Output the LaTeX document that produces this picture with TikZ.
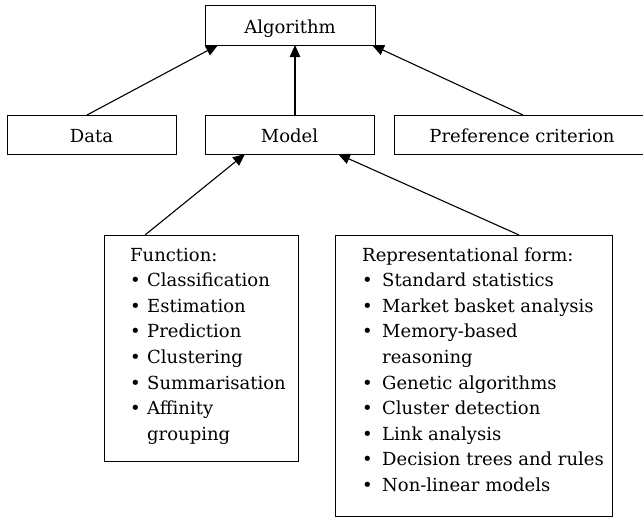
\documentclass[tikz,border=0pt]{standalone}
\usepackage{fontspec}
\setmainfont{DejaVu Serif}
\usetikzlibrary{arrows.meta}

\tikzset{
  box/.style={draw, line width=1.1pt, inner sep=0pt, anchor=north west},
  label/.style={anchor=base, inner sep=0pt, font=\fontsize{18}{25.6}\selectfont},
  listtext/.style={anchor=base west, inner sep=0pt, font=\fontsize{18}{25.6}\selectfont},
  link/.style={line width=1.1pt, -{Triangle[length=12pt,width=10.5pt]}}
}
\newcommand{\bul}[1]{\makebox[#1][l]{\textbullet}}

\begin{document}
\begin{tikzpicture}[x=1pt, y=-1pt]
\useasboundingbox (0,0) rectangle (643,517);

% top level
\node[box, minimum width=170pt, minimum height=40pt] (alg) at (205,5) {};
\node[label] at (290,33) {Algorithm};

% second level
\node[box, minimum width=169pt, minimum height=39pt] (data) at (7,115) {};
\node[label] at (91.5,142) {Data};
\node[box, minimum width=169pt, minimum height=39pt] (model) at (205,115) {};
\node[label] at (289.5,142) {Model};
\node[box, minimum width=252pt, minimum height=39pt] (pref) at (394,115) {};
\node[label] at (522,142) {Preference criterion};

% lower boxes
\node[box, minimum width=194pt, minimum height=226pt] (fn) at (104,235) {};
\node[listtext] at (130,261) {%
  \begin{tabular}[t]{@{}l@{}l@{}}
  \multicolumn{2}{@{}l@{}}{Function:}\\
  \bul{17pt} & Classification\\
  \bul{17pt} & Estimation\\
  \bul{17pt} & Prediction\\
  \bul{17pt} & Clustering\\
  \bul{17pt} & Summarisation\\
  \bul{17pt} & Affinity\\
             & grouping
  \end{tabular}};

\node[box, minimum width=277pt, minimum height=281pt] (rep) at (335,235) {};
\node[listtext] at (362,261) {%
  \begin{tabular}[t]{@{}l@{}l@{}}
  \multicolumn{2}{@{}l@{}}{Representational form:}\\
  \bul{20pt} & Standard statistics\\
  \bul{20pt} & Market basket analysis\\
  \bul{20pt} & Memory-based\\
             & reasoning\\
  \bul{20pt} & Genetic algorithms\\
  \bul{20pt} & Cluster detection\\
  \bul{20pt} & Link analysis\\
  \bul{20pt} & Decision trees and rules\\
  \bul{20pt} & Non-linear models
  \end{tabular}};

% connectors
\coordinate (dataT) at (87,115);
\coordinate (algA) at (218,45);
\coordinate (modelT) at (295,115);
\coordinate (algB) at (295,45);
\coordinate (prefT) at (523,115);
\coordinate (algC) at (372,45);
\coordinate (fnT) at (145,235);
\coordinate (modelA) at (245,154);
\coordinate (repT) at (519,235);
\coordinate (modelB) at (338,154);

\draw[link] (dataT) -- (algA);
\draw[link] (modelT) -- (algB);
\draw[link] (prefT) -- (algC);
\draw[link] (fnT) -- (modelA);
\draw[link] (repT) -- (modelB);
\end{tikzpicture}
\end{document}
